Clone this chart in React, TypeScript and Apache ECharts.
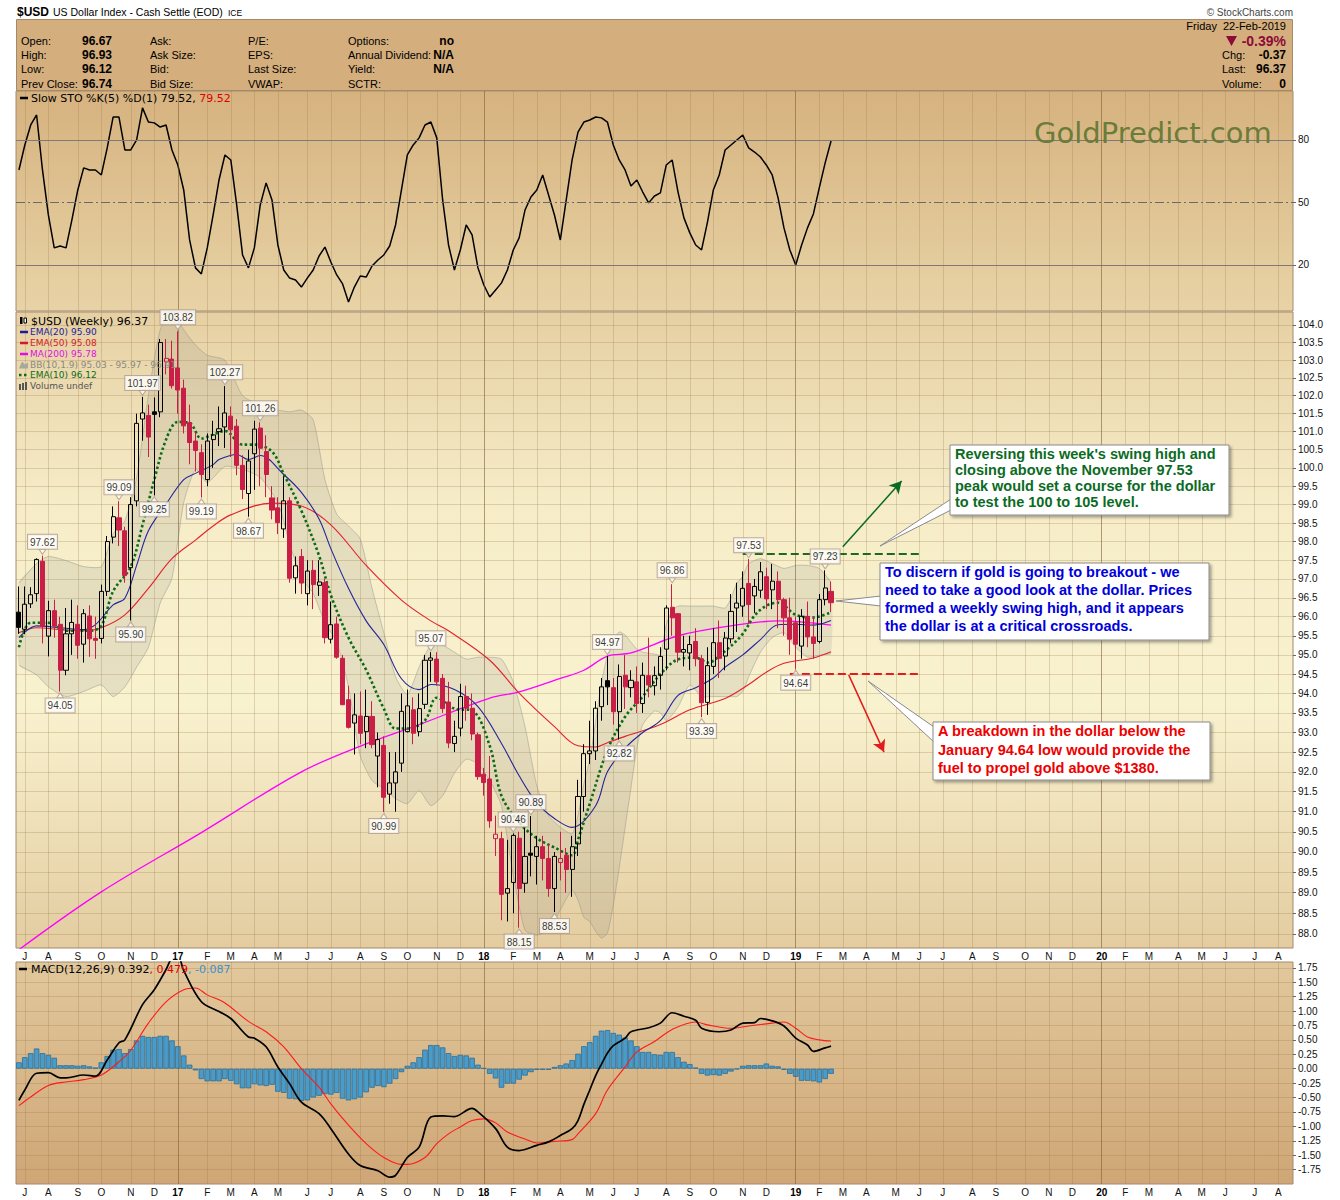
import React, { useEffect, useRef } from "react";
import * as echarts from "echarts";

// ---------------- categories (weekly bars, Friday dates) ----------------
const FIRST_WEEK = Date.UTC(2016, 6, 1);
const WEEK_COUNT = 217;
const weeks: string[] = Array.from({ length: WEEK_COUNT }, (_, i) =>
  new Date(FIRST_WEEK + i * 7 * 86400000).toISOString().slice(0, 10)
);
const monthLetters = ["J", "F", "M", "A", "M", "J", "J", "A", "S", "O", "N", "D"];

// ---------------- tick labels ----------------
const priceTicks = [88.0, 88.5, 89.0, 89.5, 90.0, 90.5, 91.0, 91.5, 92.0, 92.5, 93.0, 93.5, 94.0, 94.5, 95.0, 95.5, 96.0, 96.5, 97.0, 97.5, 98.0, 98.5, 99.0, 99.5, 100.0, 100.5, 101.0, 101.5, 102.0, 102.5, 103.0, 103.5, 104.0];
const stoTicks = [20, 50, 80];
const macdTicks = [-1.75, -1.5, -1.25, -1.0, -0.75, -0.5, -0.25, 0, 0.25, 0.5, 0.75, 1.0, 1.25, 1.5, 1.75];

// ---------------- weekly OHLC ($USD) ----------------
const opens = [
  96.12, 95.67, 96.34, 96.61, 97.47, 95.49, 96.16, 95.80, 94.60, 95.55,
  95.80, 95.28, 96.02, 95.43, 95.43, 96.67, 98.12, 98.64, 98.29, 97.30,
  99.10, 101.35, 101.45, 101.55, 101.55, 102.95, 103.03, 102.78, 102.21, 101.25,
  100.74, 100.42, 99.68, 100.78, 101.00, 101.13, 101.43, 101.15, 100.07, 99.30,
  100.39, 101.10, 100.45, 99.18, 98.91, 98.34, 99.10, 97.03, 97.60, 96.61,
  97.23, 96.83, 96.90, 95.41, 95.81, 94.91, 93.84, 93.24, 93.42, 93.02,
  93.41, 92.40, 92.67, 91.44, 91.72, 92.22, 93.02, 93.58, 93.02, 93.72,
  94.86, 94.89, 94.39, 93.78, 92.72, 93.11, 93.92, 93.62, 92.94, 91.94,
  91.82, 90.33, 90.33, 88.99, 89.25, 90.34, 89.23, 89.97, 89.89, 90.13,
  89.84, 89.10, 89.74, 89.92, 89.57, 90.20, 91.38, 92.46, 92.53, 93.66,
  94.33, 94.15, 93.53, 94.47, 94.15, 94.30, 93.74, 94.46, 94.20, 94.47,
  95.15, 96.25, 96.08, 95.07, 95.05, 95.35, 94.90, 93.77, 94.70, 95.32,
  94.97, 95.42, 96.23, 96.28, 96.88, 96.55, 96.70, 97.06, 96.71, 96.94,
  96.45, 95.97, 95.84, 95.23, 96.01, 95.47, 95.35, 96.45, 96.67,
];
const highs = [
  96.80, 96.80, 96.78, 97.55, 97.62, 96.42, 96.45, 96.00, 96.23, 96.45,
  96.30, 96.20, 96.30, 96.00, 96.85, 98.15, 98.95, 99.09, 98.40, 99.20,
  101.50, 101.97, 101.75, 101.95, 103.60, 103.60, 103.55, 103.82, 102.45, 101.75,
  101.00, 100.65, 100.95, 101.30, 101.70, 102.27, 101.70, 101.35, 100.35, 100.50,
  101.30, 101.26, 100.90, 99.50, 99.20, 99.77, 99.20, 97.60, 97.80, 97.50,
  97.50, 97.50, 97.00, 96.40, 96.00, 95.00, 94.20, 94.00, 94.05, 94.10,
  93.80, 93.00, 92.90, 92.50, 92.50, 94.00, 94.10, 93.90, 94.00, 95.00,
  95.07, 95.07, 94.50, 94.30, 93.30, 94.25, 94.20, 94.00, 93.00, 92.10,
  92.40, 90.90, 90.50, 90.30, 90.46, 90.50, 90.60, 90.89, 90.40, 90.40,
  90.20, 90.00, 90.50, 90.10, 90.40, 91.80, 92.70, 93.30, 93.80, 94.40,
  94.97, 94.40, 94.75, 95.00, 94.60, 94.70, 94.80, 95.45, 94.70, 95.20,
  96.30, 96.86, 96.10, 95.50, 95.50, 95.70, 95.00, 95.20, 95.70, 95.90,
  95.60, 96.60, 96.90, 97.20, 97.53, 97.00, 97.45, 97.30, 97.40, 97.20,
  96.50, 96.50, 96.00, 96.20, 96.40, 96.00, 96.60, 97.23, 96.93,
];
const lows = [
  95.55, 95.54, 96.23, 96.40, 95.30, 94.96, 95.45, 94.05, 94.47, 95.00,
  94.90, 94.80, 94.95, 94.90, 95.30, 96.55, 97.95, 97.88, 96.90, 95.90,
  98.95, 100.75, 100.30, 99.25, 101.40, 102.60, 102.20, 101.50, 100.95, 100.10,
  99.90, 99.19, 99.50, 100.00, 100.60, 100.55, 100.30, 99.80, 99.15, 98.67,
  99.40, 99.50, 99.20, 98.60, 98.20, 98.10, 96.90, 96.61, 96.60, 96.30,
  96.20, 96.55, 95.30, 95.30, 94.90, 93.70, 93.10, 92.44, 92.70, 92.60,
  92.60, 91.61, 90.99, 91.20, 91.00, 92.00, 93.00, 92.70, 92.90, 93.60,
  94.30, 94.20, 93.50, 92.60, 92.50, 92.90, 93.30, 92.80, 91.80, 91.40,
  90.60, 89.90, 88.33, 88.30, 88.50, 88.15, 89.00, 89.40, 89.20, 89.30,
  88.90, 88.53, 89.30, 89.00, 88.90, 89.90, 91.00, 92.20, 92.30, 93.30,
  93.70, 93.20, 92.82, 93.60, 93.90, 93.50, 93.50, 93.90, 93.95, 94.10,
  94.60, 95.50, 94.80, 94.70, 94.60, 94.70, 93.39, 93.45, 94.50, 94.40,
  94.60, 95.30, 95.60, 96.00, 95.80, 96.10, 96.50, 96.20, 96.20, 95.70,
  95.50, 95.00, 94.64, 94.90, 95.20, 94.90, 95.30, 96.30, 96.12,
];
const closes = [
  95.72, 96.33, 96.58, 97.52, 95.75, 96.16, 95.75, 94.60, 95.55, 95.85,
  95.25, 96.08, 95.42, 95.38, 96.67, 98.00, 98.67, 98.31, 97.09, 99.00,
  101.23, 101.52, 100.85, 101.48, 103.50, 103.05, 102.28, 102.16, 101.16, 100.70,
  100.48, 99.82, 100.74, 100.91, 101.08, 101.52, 101.05, 100.07, 99.41, 100.19,
  101.07, 100.54, 99.82, 98.85, 98.51, 99.10, 97.02, 97.35, 96.89, 97.21,
  96.85, 96.92, 95.45, 95.79, 94.94, 93.71, 93.13, 93.45, 92.98, 93.41,
  92.69, 92.82, 91.36, 91.72, 92.00, 93.54, 93.68, 92.98, 93.61, 94.86,
  94.92, 94.30, 93.61, 92.73, 92.90, 93.92, 93.62, 92.96, 91.88, 91.73,
  90.77, 90.44, 88.96, 89.10, 90.41, 89.10, 89.89, 89.92, 90.13, 89.84,
  89.10, 89.89, 89.84, 89.57, 90.13, 91.38, 92.46, 92.53, 93.62, 94.17,
  94.17, 93.53, 94.44, 94.17, 94.34, 93.74, 94.47, 94.22, 94.46, 94.96,
  96.23, 95.97, 95.07, 95.14, 95.27, 94.90, 93.76, 94.72, 95.32, 94.91,
  95.44, 96.14, 96.36, 96.75, 96.32, 96.80, 97.19, 96.47, 96.94, 96.45,
  95.97, 95.41, 95.28, 96.01, 95.47, 95.30, 96.45, 96.76, 96.37,
];

// ---------------- overlays: [week index, value] ----------------
const ema20 = [[0, 95.45], [3, 95.76], [7, 95.71], [11, 95.66], [13, 95.79], [16, 96.31], [18, 96.49], [20, 97.36], [22, 98.29], [25, 99.01], [28, 99.68], [30, 99.85], [33, 100.09], [34, 100.23], [37, 100.37], [39, 100.23], [41, 100.34], [45, 99.82], [48, 99.33], [51, 98.61], [53, 97.81], [56, 96.75], [59, 95.89], [62, 95.27], [65, 94.38], [68, 94.10], [70, 94.23], [74, 94.10], [78, 93.66], [82, 92.72], [85, 91.90], [88, 91.22], [91, 90.83], [94, 90.61], [98, 91.15], [100, 92.0], [103, 92.6], [106, 93.0], [109, 93.3], [112, 93.95], [115, 94.15], [118, 94.4], [120, 94.68], [123, 95.0], [126, 95.4], [129, 95.79], [132, 95.8], [135, 95.78], [138, 95.90]];
const ema50 = [[0, 95.58], [3, 95.71], [7, 95.66], [11, 95.63], [14, 95.71], [18, 96.05], [22, 96.75], [26, 97.54], [30, 98.04], [33, 98.42], [36, 98.72], [43, 99.04], [48, 98.96], [53, 98.45], [59, 97.36], [65, 96.44], [70, 95.89], [73, 95.63], [80, 94.86], [85, 94.01], [91, 93.15], [95, 92.66], [98, 92.63], [100, 92.74], [103, 92.9], [109, 93.2], [114, 93.58], [120, 93.87], [124, 94.23], [127, 94.55], [130, 94.78], [135, 94.92], [138, 95.08]];
const ma200 = [[0, 87.62], [14, 89.02], [31, 90.48], [48, 92.0], [59, 92.71], [68, 93.2], [80, 93.88], [85, 94.04], [92, 94.39], [96, 94.6], [100, 94.97], [104, 95.05], [112, 95.5], [121, 95.76], [129, 95.89], [138, 95.78]];
const ema10 = [[0, 95.20], [2, 95.84], [5, 95.84], [8, 95.63], [12, 95.63], [14, 95.76], [16, 96.67], [19, 97.33], [21, 98.45], [23, 99.68], [25, 100.78], [27, 101.27], [29, 101.24], [31, 100.81], [33, 100.92], [35, 101.02], [38, 100.64], [40, 100.64], [43, 100.45], [45, 99.83], [48, 98.83], [51, 97.62], [53, 96.57], [56, 95.45], [59, 94.61], [62, 93.61], [64, 93.10], [66, 93.10], [69, 93.31], [71, 93.89], [74, 93.61], [77, 93.56], [80, 92.66], [82, 91.40], [85, 90.73], [88, 90.34], [91, 90.11], [94, 89.92], [95, 90.3], [97, 91.2], [100, 92.55], [103, 93.4], [106, 93.92], [109, 94.5], [112, 94.88], [115, 94.93], [117, 94.8], [120, 95.1], [123, 95.55], [125, 96.03], [127, 96.29], [129, 96.37], [132, 96.05], [135, 95.98], [138, 96.12]];
const bbIdx = [0, 3, 5, 8, 11, 14, 16, 18, 20, 22, 24, 26, 28, 30, 32, 35, 38, 41, 44, 46, 48, 50, 52, 54, 56, 58, 60, 62, 64, 66, 68, 70, 72, 74, 76, 78, 80, 82, 84, 86, 88, 90, 92, 94, 95, 96, 97, 98, 99, 100, 101, 102, 103, 104, 105, 106, 108, 109, 110, 111, 112, 114, 116, 118, 120, 121, 122, 123, 124, 126, 128, 130, 132, 134, 136, 138];
const bbUpper = [96.89, 97.41, 97.60, 97.49, 97.33, 97.33, 98.21, 98.56, 99.74, 102.02, 103.86, 104.43, 103.86, 103.43, 103.14, 103.0, 102.0, 101.74, 101.6, 101.55, 101.6, 101.33, 99.68, 98.74, 98.42, 98.07, 96.75, 95.58, 94.43, 93.97, 94.68, 95.25, 95.25, 95.07, 94.89, 94.94, 94.94, 94.89, 94.30, 93.15, 91.65, 90.90, 90.61, 90.45, 90.90, 91.70, 92.30, 93.28, 94.28, 95.00, 95.40, 95.60, 95.52, 95.33, 95.15, 95.07, 95.02, 95.00, 95.80, 96.15, 96.28, 96.28, 96.28, 96.28, 96.23, 96.49, 96.89, 97.07, 97.41, 97.54, 97.41, 97.28, 97.36, 97.36, 97.28, 96.91];
const bbLower = [94.73, 94.48, 94.17, 93.92, 94.05, 94.22, 93.92, 94.17, 94.68, 95.20, 96.36, 97.02, 99.05, 99.96, 99.60, 100.04, 99.96, 99.74, 99.05, 97.94, 97.02, 96.62, 95.84, 95.33, 94.17, 92.40, 91.78, 91.58, 91.33, 91.20, 91.53, 91.15, 91.40, 91.97, 92.32, 92.20, 91.78, 91.15, 89.43, 88.09, 87.97, 88.09, 88.58, 89.06, 88.82, 88.40, 88.30, 88.06, 87.90, 88.02, 88.70, 89.60, 90.60, 91.60, 92.60, 93.20, 93.55, 93.50, 93.30, 93.45, 93.65, 94.22, 93.92, 93.92, 93.92, 93.92, 93.92, 94.05, 94.43, 95.07, 95.45, 95.58, 95.20, 94.94, 94.99, 95.03];

// swing-point labels
const peakIdx = [4, 17, 21, 27, 35, 41, 70, 84, 87, 100, 111, 124, 137];
const peakVal = [97.62, 99.09, 101.97, 103.82, 102.27, 101.26, 95.07, 90.46, 90.89, 94.97, 96.86, 97.53, 97.23];
const troughIdx = [7, 19, 23, 31, 39, 62, 85, 91, 102, 116, 132];
const troughVal = [94.05, 95.90, 99.25, 99.19, 98.67, 90.99, 88.15, 88.53, 92.82, 93.39, 94.64];

// ---------------- Slow Stochastic %K(5) ----------------
const stoK = [
  65.6, 77.6, 87.2, 92.0, 65.6, 44.0, 28.2, 29.1, 28.2, 41.6,
  56.0, 66.6, 65.6, 65.6, 63.2, 76.2, 91.0, 91.0, 75.2, 75.2,
  80.0, 95.4, 88.6, 88.2, 86.2, 87.2, 75.2, 68.0, 56.0, 32.0,
  18.6, 15.7, 28.2, 44.0, 60.8, 72.8, 70.4, 48.8, 24.8, 18.6,
  28.2, 48.8, 59.4, 51.2, 29.6, 17.6, 13.7, 12.8, 9.4, 13.7,
  17.6, 24.3, 28.6, 21.4, 15.2, 10.9, 2.2, 9.4, 14.7, 14.2,
  19.5, 22.4, 24.8, 29.1, 39.2, 56.0, 72.8, 77.6, 81.0, 87.2,
  88.6, 81.0, 51.2, 29.6, 17.6, 27.2, 39.2, 34.4, 18.6, 10.4,
  4.6, 8.0, 11.4, 17.6, 27.2, 33.0, 46.4, 52.6, 56.0, 63.2,
  53.6, 44.0, 32.0, 51.2, 70.4, 83.8, 88.6, 89.6, 91.0, 90.6,
  88.6, 77.6, 70.4, 65.6, 57.9, 60.8, 55.0, 49.8, 53.1, 54.6,
  68.0, 70.4, 55.0, 42.6, 35.4, 29.6, 27.2, 40.6, 56.0, 63.2,
  75.2, 77.6, 80.0, 82.4, 76.2, 74.2, 71.8, 68.0, 63.2, 52.2,
  37.8, 27.2, 20.0, 29.6, 37.8, 44.5, 57.0, 69.0, 79.52,
];

// ---------------- MACD(12,26,9) ----------------
const macdLine = [[0, -0.55], [1, -0.37], [3, -0.08], [5, -0.07], [7, -0.16], [8, -0.16], [11, -0.11], [13, -0.13], [15, 0.15], [17, 0.45], [18, 0.50], [21, 1.11], [23, 1.37], [25, 1.72], [26, 1.92], [27, 1.95], [28, 1.70], [31, 1.16], [34, 0.99], [36, 0.87], [39, 0.55], [40, 0.53], [42, 0.38], [44, 0.03], [46, -0.26], [48, -0.58], [51, -0.78], [53, -1.04], [56, -1.48], [58, -1.68], [61, -1.77], [63, -1.88], [64, -1.85], [66, -1.54], [68, -1.36], [70, -0.84], [72, -0.82], [74, -0.83], [77, -0.69], [78, -0.75], [81, -1.04], [83, -1.36], [85, -1.42], [88, -1.33], [90, -1.27], [92, -1.16], [94, -1.04], [95, -0.90], [96, -0.62], [97, -0.37], [98, -0.12], [99, 0.08], [100, 0.27], [101, 0.40], [103, 0.53], [104, 0.64], [107, 0.71], [109, 0.79], [111, 0.97], [113, 0.91], [115, 0.84], [116, 0.70], [119, 0.64], [121, 0.67], [123, 0.79], [125, 0.80], [126, 0.87], [128, 0.83], [130, 0.74], [132, 0.53], [134, 0.41], [135, 0.30], [137, 0.36], [138, 0.39]];
const signalLine = [[0, -0.64], [2, -0.49], [5, -0.29], [8, -0.23], [11, -0.19], [14, -0.11], [17, 0.12], [19, 0.32], [22, 0.79], [25, 1.16], [28, 1.37], [30, 1.40], [32, 1.28], [35, 1.14], [39, 0.82], [42, 0.64], [45, 0.38], [48, 0.00], [51, -0.32], [53, -0.61], [56, -0.98], [59, -1.30], [62, -1.54], [65, -1.66], [66, -1.66], [69, -1.54], [71, -1.30], [73, -1.13], [75, -1.01], [77, -0.90], [79, -0.87], [81, -0.94], [83, -1.10], [86, -1.22], [88, -1.29], [91, -1.26], [94, -1.23], [95, -1.13], [98, -0.78], [100, -0.37], [103, 0.03], [105, 0.29], [108, 0.47], [111, 0.68], [115, 0.81], [117, 0.76], [121, 0.70], [124, 0.74], [128, 0.79], [130, 0.81], [132, 0.70], [134, 0.55], [136, 0.50], [138, 0.48]];
const macdHist = [
  0.11, 0.20, 0.27, 0.35, 0.27, 0.24, 0.19, 0.06, 0.06, 0.06, 0.05, 0.06, 0.04, 0.02,
  0.11, 0.22, 0.33, 0.34, 0.27, 0.34, 0.49, 0.57, 0.55, 0.55, 0.57, 0.57, 0.49, 0.39, 0.23, 0.07,
  -0.03, -0.18, -0.22, -0.22, -0.22, -0.18, -0.21, -0.27, -0.34, -0.34, -0.27, -0.29, -0.30, -0.28, -0.40, -0.42, -0.52, -0.53, -0.56, -0.55,
  -0.50, -0.47, -0.44, -0.45, -0.42, -0.52, -0.55, -0.53, -0.50, -0.41, -0.33, -0.30, -0.32, -0.26, -0.18, -0.06,
  0.05, 0.11, 0.20, 0.33, 0.41, 0.41,
  0.37, 0.27, 0.22, 0.24, 0.23, 0.19, 0.07, 0.01, -0.09, -0.17,
  -0.33, -0.26, -0.26, -0.19, -0.12, -0.06, -0.02, -0.02, -0.02, 0.03,
  0.06, 0.09, 0.15, 0.26, 0.39, 0.46, 0.57, 0.66, 0.67, 0.62,
  0.59, 0.54, 0.49, 0.39, 0.29, 0.29, 0.25, 0.24, 0.29, 0.29,
  0.20, 0.12, 0.08, 0.02, -0.09, -0.12, -0.11, -0.12, -0.09, -0.05,
  -0.01, 0.05, 0.06, 0.06, 0.06, 0.09, 0.05, 0.04, -0.02, -0.09,
  -0.14, -0.21, -0.21, -0.22, -0.24, -0.18, -0.09,
];

// annotation levels
const breakoutLevel = 97.67;
const breakdownLevel = 94.52;

// ---------------- helpers ----------------
const FONT = '"Liberation Sans", Arial, sans-serif';
const LEGF = '"DejaVu Sans", Verdana, sans-serif';
const ln = Math.log;
const isMonthStart = weeks.map((w) => {
  const d = +w.slice(8, 10);
  return d >= 5 && d <= 11;
});
const yearStarts = weeks
  .map((w, i) => (isMonthStart[i] && w.slice(5, 7) === "01" ? i : -1))
  .filter((i) => i >= 0);

const RED = "#c91e45";
const gridLine = "rgba(150,115,70,0.26)";
const yearLine = "rgba(120,90,50,0.45)";

function xAxis(gridIndex: number, labels: boolean) {
  return {
    type: "category",
    gridIndex,
    data: weeks,
    boundaryGap: true,
    axisLine: { show: false },
    axisTick: { show: false },
    axisLabel: {
      show: labels,
      interval: (i: number) => isMonthStart[i],
      margin: 3,
      fontSize: 10,
      fontFamily: FONT,
      color: "#111",
      formatter: (v: string) => {
        const m = +v.slice(5, 7);
        return m === 1 ? `{y|${v.slice(2, 4)}}` : monthLetters[m - 1];
      },
      rich: { y: { fontWeight: "bold", fontSize: 10, fontFamily: FONT, color: "#000" } },
    },
    splitLine: {
      show: true,
      interval: (i: number) => isMonthStart[i],
      alignWithLabel: true,
      lineStyle: { color: gridLine, width: 1 },
    },
  };
}

function txt(text: string, x: number, y: number, font: string, fill: string, align = "left", extra: any = {}) {
  return {
    type: "text",
    silent: true,
    z: 60,
    style: { text, x, y, font, fill, textAlign: align, textVerticalAlign: "middle", ...extra },
  };
}

function callout(x: number, y: number, w: number, h: number, lines: string[], color: string, lh: number, tip: number[][]) {
  const els: any[] = [
    {
      type: "polygon",
      silent: true,
      z: 61,
      shape: { points: tip },
      style: { fill: "#fff", stroke: "#8a8a8a", lineWidth: 1 },
    },
    {
      type: "rect",
      silent: true,
      z: 62,
      shape: { x, y, width: w, height: h },
      style: { fill: "#fff", stroke: "#8a8a8a", lineWidth: 1, shadowBlur: 3, shadowOffsetX: 2, shadowOffsetY: 2, shadowColor: "rgba(0,0,0,0.35)" },
    },
  ];
  lines.forEach((t, k) => {
    els.push({
      type: "text",
      silent: true,
      z: 63,
      style: { text: t, x: x + 5, y: y + 9 + k * lh, font: `bold 14.5px ${FONT}`, fill: color, textVerticalAlign: "middle" },
    });
  });
  return els;
}

function buildOption() {
  const candleData = opens.map((o, i) => {
    const c = closes[i];
    const prev = i > 0 ? closes[i - 1] : -Infinity;
    const col = c >= prev ? "#000" : RED;
    const fill = c > o ? "rgba(0,0,0,0)" : col;
    return {
      value: [ln(o), ln(c), ln(lows[i]), ln(highs[i])],
      itemStyle: { color: fill, color0: fill, borderColor: col, borderColor0: col, borderColorDoji: col },
    };
  });
  const lnPairs = (arr: number[][]) => arr.map(([i, v]) => [i, ln(v)]);
  const lineSeries = (data: number[][], color: string, width: number, extra: any = {}) => ({
    type: "line",
    xAxisIndex: 1,
    yAxisIndex: 1,
    data: lnPairs(data),
    smooth: 0.35,
    showSymbol: false,
    symbol: "none",
    silent: true,
    z: 3,
    lineStyle: { color, width, ...extra },
  });
  const labelBox = {
    show: true,
    fontSize: 10,
    fontFamily: FONT,
    color: "#000",
    backgroundColor: "#fff",
    borderColor: "#b09c88",
    borderWidth: 1,
    padding: [2, 2, 1, 2],
    lineHeight: 11,
    formatter: (p: any) => p.value[2].toFixed(2),
  };

  const graphic: any[] = [
    // title row
    txt("$USD", 17, 12, `bold 12px ${FONT}`, "#000"),
    txt("US Dollar Index - Cash Settle (EOD)", 53, 12, `10.5px ${FONT}`, "#000"),
    txt("ICE", 228, 12.5, `8.5px ${FONT}`, "#000"),
    txt("\u00A9 StockCharts.com", 1293, 12, `10px ${FONT}`, "#444", "right"),
    // header box
    {
      type: "rect",
      silent: true,
      z: 0,
      shape: { x: 16.5, y: 19.5, width: 1276, height: 71 },
      style: { fill: "#d4ae7d", stroke: "#a48a6c", lineWidth: 1 },
    },
  ];
  const hdrLabels: [string, number, number][] = [
    ["Open:", 21, 41], ["High:", 21, 55], ["Low:", 21, 69], ["Prev Close:", 21, 84],
    ["Ask:", 150, 41], ["Ask Size:", 150, 55], ["Bid:", 150, 69], ["Bid Size:", 150, 84],
    ["P/E:", 248, 41], ["EPS:", 248, 55], ["Last Size:", 248, 69], ["VWAP:", 248, 84],
    ["Options:", 348, 41], ["Annual Dividend:", 348, 55], ["Yield:", 348, 69], ["SCTR:", 348, 84],
  ];
  hdrLabels.forEach(([t, x, y]) => graphic.push(txt(t, x, y, `11px ${FONT}`, "#000")));
  const hdrValues: [string, number, number][] = [["96.67", 82, 41], ["96.93", 82, 55], ["96.12", 82, 69], ["96.74", 82, 84]];
  hdrValues.forEach(([t, x, y]) => graphic.push(txt(t, x, y, `bold 12px ${FONT}`, "#000")));
  const hdrRight: [string, number, number][] = [["no", 454, 41], ["N/A", 454, 55], ["N/A", 454, 69]];
  hdrRight.forEach(([t, x, y]) => graphic.push(txt(t, x, y, `bold 12px ${FONT}`, "#000", "right")));
  graphic.push(txt("Friday  22-Feb-2019", 1286, 26, `11px ${FONT}`, "#000", "right"));
  graphic.push(txt("-0.39%", 1286, 41, `bold 14px ${FONT}`, "#8e0a37", "right"));
  graphic.push({
    type: "polygon",
    silent: true,
    z: 60,
    shape: { points: [[1226, 36], [1237, 36], [1231.5, 46]] },
    style: { fill: "#8e0a37" },
  });
  const sideRows: [string, string, number][] = [["Chg:", "-0.37", 55], ["Last:", "96.37", 69], ["Volume:", "0", 84]];
  sideRows.forEach(([l, v, y]) => {
    graphic.push(txt(l, 1222, y, `11px ${FONT}`, "#000"));
    graphic.push(txt(v, 1286, y, `bold 12px ${FONT}`, "#000", "right"));
  });

  // STO legend
  graphic.push({ type: "line", silent: true, z: 60, shape: { x1: 20, y1: 98, x2: 28, y2: 98 }, style: { stroke: "#000", lineWidth: 2.5 } });
  graphic.push(txt("Slow STO %K(5) %D(1) 79.52, {r|79.52}", 31, 98.5, `11px ${LEGF}`, "#000", "left", { rich: { r: { fill: "#e00000", font: `11px ${LEGF}` } } }));
  // watermark
  graphic.push(txt("GoldPredict.com", 1034, 133, `29px ${LEGF}`, "#6b7c3a"));

  // price legend
  graphic.push({ type: "rect", silent: true, z: 60, shape: { x: 20, y: 317, width: 2.5, height: 7 }, style: { fill: "#000" } });
  graphic.push({ type: "rect", silent: true, z: 60, shape: { x: 24, y: 318, width: 2.5, height: 5 }, style: { fill: "#fff", stroke: "#000", lineWidth: 1 } });
  graphic.push(txt("$USD (Weekly) 96.37", 31, 321, `11px ${LEGF}`, "#000"));
  const legRows: [string, string, number, string][] = [
    ["EMA(20) 95.90", "#1c1c9a", 332, "solid"],
    ["EMA(50) 95.08", "#d41a2a", 343, "solid"],
    ["MA(200) 95.78", "#e010e0", 354, "solid"],
    ["BB(10,1.9) 95.03 - 95.97 - 96.91", "#8a8a80", 364.5, "bb"],
    ["EMA(10) 96.12", "#0e6b18", 375, "dot"],
    ["Volume undef", "#555", 386, "vol"],
  ];
  legRows.forEach(([t, c, y, kind]) => {
    if (kind === "solid") {
      graphic.push({ type: "line", silent: true, z: 60, shape: { x1: 20, y1: y, x2: 28, y2: y }, style: { stroke: c, lineWidth: 2.5 } });
    } else if (kind === "dot") {
      graphic.push({ type: "line", silent: true, z: 60, shape: { x1: 19, y1: y, x2: 28, y2: y }, style: { stroke: c, lineWidth: 2.5, lineDash: [2.5, 2.5] } });
    } else if (kind === "bb") {
      graphic.push({ type: "polygon", silent: true, z: 60, shape: { points: [[19, y + 4], [22, y - 3], [25, y], [28, y - 2], [28, y + 4]] }, style: { fill: "#a8a89c" } });
    } else {
      [19, 22, 25].forEach((bx, k) =>
        graphic.push({ type: "rect", silent: true, z: 60, shape: { x: bx, y: y - 2 - k, width: 2, height: 6 + k }, style: { fill: "#555" } })
      );
    }
    graphic.push(txt(t, 30, y, `9px ${LEGF}`, c));
  });

  // MACD legend
  graphic.push({ type: "line", silent: true, z: 60, shape: { x1: 19, y1: 969, x2: 27, y2: 969 }, style: { stroke: "#000", lineWidth: 2.5 } });
  graphic.push(
    txt("MACD(12,26,9) 0.392{r|, 0.479}{b|, -0.087}", 31, 969.5, `11px ${LEGF}`, "#000", "left", {
      rich: { r: { fill: "#e00000", font: `11px ${LEGF}` }, b: { fill: "#3a90d0", font: `11px ${LEGF}` } },
    })
  );

  // call-outs
  graphic.push(
    ...callout(950, 445, 279, 70, [
      "Reversing this week's swing high and",
      "closing above the November 97.53",
      "peak would set a course for the dollar",
      "to test the 100 to 105 level.",
    ], "#0b6b1f", 16, [[951, 499], [880, 546], [951, 510]])
  );
  graphic.push(
    ...callout(880, 563, 329, 77, [
      "To discern if gold is going to breakout - we",
      "need to take a good look at the dollar. Prices",
      "formed a weekly swing high, and it appears",
      "the dollar is at a critical crossroads.",
    ], "#0000dd", 18, [[881, 596], [836, 601], [881, 606]])
  );
  graphic.push(
    ...callout(933, 722, 277, 58, [
      "A breakdown in the dollar below the",
      "January 94.64 low would provide the",
      "fuel to propel gold above $1380.",
    ], "#ee0000", 18.5, [[934, 727], [868, 681], [934, 742]])
  );

  const yearMarks = yearStarts.map((i) => ({ xAxis: i, lineStyle: { color: yearLine, width: 1, type: "solid" } }));

  return {
    animation: false,
    backgroundColor: "#ffffff",
    graphic: { elements: graphic },
    grid: [
      {
        left: 16, top: 91, width: 1277, height: 220, show: true,
        backgroundColor: { type: "linear", x: 0, y: 0, x2: 0, y2: 1, colorStops: [{ offset: 0, color: "#d6b27f" }, { offset: 1, color: "#e8d3a6" }] },
        borderColor: "#a48a6c", borderWidth: 1,
      },
      {
        left: 16, top: 312, width: 1277, height: 636, show: true,
        backgroundColor: { type: "linear", x: 0, y: 0, x2: 0, y2: 1, colorStops: [{ offset: 0, color: "#e6d0a3" }, { offset: 0.3, color: "#f6ecc8" }, { offset: 0.62, color: "#f9f2cf" }, { offset: 1, color: "#e3cca0" }] },
        borderColor: "#a48a6c", borderWidth: 1,
      },
      {
        left: 16, top: 962, width: 1277, height: 222, show: true,
        backgroundColor: { type: "linear", x: 0, y: 0, x2: 0, y2: 1, colorStops: [{ offset: 0, color: "#e1c89c" }, { offset: 1, color: "#cfa676" }] },
        borderColor: "#a48a6c", borderWidth: 1,
      },
    ],
    xAxis: [xAxis(0, false), xAxis(1, true), xAxis(2, true)],
    yAxis: [
      {
        type: "value", gridIndex: 0, position: "right", min: -2.1, max: 103.5,
        axisLine: { show: false },
        axisTick: { show: true, length: 3, customValues: stoTicks, lineStyle: { color: "#666" } },
        axisLabel: { customValues: stoTicks, fontSize: 10, fontFamily: FONT, color: "#111", margin: 5 },
        splitLine: { show: false },
      },
      {
        type: "value", gridIndex: 1, position: "right", min: ln(87.66), max: ln(104.37),
        axisLine: { show: false },
        axisTick: { show: true, length: 3, customValues: priceTicks.map(ln), lineStyle: { color: "#666" } },
        axisLabel: { customValues: priceTicks.map(ln), fontSize: 10, fontFamily: FONT, color: "#111", margin: 5, formatter: (v: number) => Math.exp(v).toFixed(1) },
        splitLine: { show: true, lineStyle: { color: gridLine, width: 1 } },
      },
      {
        type: "value", gridIndex: 2, position: "right", min: -2.0, max: 1.85,
        axisLine: { show: false },
        axisTick: { show: true, length: 3, customValues: macdTicks, lineStyle: { color: "#666" } },
        axisLabel: { customValues: macdTicks, fontSize: 10, fontFamily: FONT, color: "#111", margin: 5, formatter: (v: number) => v.toFixed(2) },
        splitLine: { show: true, lineStyle: { color: gridLine, width: 1 } },
      },
    ],
    series: [
      {
        type: "line", xAxisIndex: 0, yAxisIndex: 0, data: stoK, showSymbol: false, symbol: "none", silent: true,
        lineStyle: { color: "#000", width: 1.5 }, z: 4,
        markLine: {
          silent: true, symbol: ["none", "none"], label: { show: false }, animation: false,
          data: [
            { yAxis: 80, lineStyle: { color: "#7a7a7a", width: 1, type: "solid" } },
            { yAxis: 50, lineStyle: { color: "#6a6a6a", width: 1, type: [9, 3, 2, 3] } },
            { yAxis: 20, lineStyle: { color: "#7a7a7a", width: 1, type: "solid" } },
            ...yearMarks,
          ],
        },
      },
      {
        type: "custom", xAxisIndex: 1, yAxisIndex: 1, clip: true, silent: true, z: 1,
        data: bbIdx.map((i, k) => [i, ln(bbUpper[k]), ln(bbLower[k])]),
        encode: { x: 0, y: [1, 2] },
        renderItem: (params: any, api: any) => {
          if (params.dataIndex !== 0) return null;
          const up = bbIdx.map((i, k) => api.coord([i, ln(bbUpper[k])]));
          const lo = bbIdx.map((i, k) => api.coord([i, ln(bbLower[k])]));
          return {
            type: "group",
            children: [
              { type: "polygon", shape: { points: up.concat(lo.slice().reverse()), smooth: 0.2 }, style: { fill: "rgba(135,138,128,0.17)", stroke: "none" } },
              { type: "polyline", shape: { points: up, smooth: 0.2 }, style: { fill: "none", stroke: "rgba(150,150,140,0.5)", lineWidth: 1 } },
              { type: "polyline", shape: { points: lo, smooth: 0.2 }, style: { fill: "none", stroke: "rgba(150,150,140,0.5)", lineWidth: 1 } },
            ],
          };
        },
      },
      lineSeries(ma200, "#ff00ff", 1.3),
      lineSeries(ema50, "#e3202c", 1.1),
      lineSeries(ema20, "#22259a", 1.1),
      lineSeries(ema10, "#0b6a16", 2.6, { type: [2.5, 2.5], cap: "butt" }),
      {
        type: "candlestick", xAxisIndex: 1, yAxisIndex: 1, barWidth: 4.6, z: 5, silent: true,
        itemStyle: { borderWidth: 1 },
        data: candleData,
        markLine: {
          silent: true, symbol: ["none", "none"], label: { show: false }, animation: false,
          data: [
            ...yearMarks,
            [
              { coord: [123, ln(breakoutLevel)], lineStyle: { color: "#1d6a1d", width: 2, type: [8, 4] } },
              { coord: [153, ln(breakoutLevel)], lineStyle: { color: "#1d6a1d", width: 2, type: [8, 4] } },
            ],
            [
              { coord: [131, ln(breakdownLevel)], lineStyle: { color: "#e21b1b", width: 2, type: [8, 4] } },
              { coord: [153, ln(breakdownLevel)], lineStyle: { color: "#e21b1b", width: 2, type: [8, 4] } },
            ],
            [
              { coord: [140, ln(97.86)], symbol: "none", lineStyle: { color: "#0b6a22", width: 1.5, type: "solid" } },
              { coord: [150, ln(99.64)], symbol: "arrow", symbolSize: [10, 12], lineStyle: { color: "#0b6a22", width: 1.5, type: "solid" } },
            ],
            [
              { coord: [141, ln(94.48)], symbol: "none", lineStyle: { color: "#e21b1b", width: 1.5, type: "solid" } },
              { coord: [147, ln(92.5)], symbol: "arrow", symbolSize: [10, 12], lineStyle: { color: "#e21b1b", width: 1.5, type: "solid" } },
            ],
          ],
        },
      },
      {
        type: "scatter", xAxisIndex: 1, yAxisIndex: 1, z: 8, silent: true,
        symbol: "triangle", symbolSize: [7, 5], symbolRotate: 180, symbolOffset: [0, -4],
        itemStyle: { color: "#fff", borderColor: "#b09c88", borderWidth: 1 },
        label: { ...labelBox, position: "top", distance: 0 },
        data: peakIdx.map((i, k) => [i, ln(peakVal[k]), peakVal[k]]),
      },
      {
        type: "scatter", xAxisIndex: 1, yAxisIndex: 1, z: 8, silent: true,
        symbol: "triangle", symbolSize: [7, 5], symbolOffset: [0, 4],
        itemStyle: { color: "#fff", borderColor: "#b09c88", borderWidth: 1 },
        label: { ...labelBox, position: "bottom", distance: 0 },
        data: troughIdx.map((i, k) => [i, ln(troughVal[k]), troughVal[k]]),
      },
      {
        type: "bar", xAxisIndex: 2, yAxisIndex: 2, data: macdHist, barCategoryGap: "6%", silent: true, z: 2,
        itemStyle: { color: "#4a9bc8", borderColor: "#2b6f99", borderWidth: 0.8 },
        markLine: { silent: true, symbol: ["none", "none"], label: { show: false }, animation: false, data: yearMarks },
      },
      {
        type: "line", xAxisIndex: 2, yAxisIndex: 2, data: signalLine, smooth: 0.35, showSymbol: false, symbol: "none", silent: true, z: 4,
        lineStyle: { color: "#ff1a1a", width: 1.1 },
      },
      {
        type: "line", xAxisIndex: 2, yAxisIndex: 2, data: macdLine, smooth: 0.35, showSymbol: false, symbol: "none", silent: true, z: 5,
        lineStyle: { color: "#000", width: 1.7 },
      },
    ],
  };
}

export default function App() {
  const ref = useRef<HTMLDivElement>(null);
  useEffect(() => {
    document.body.style.margin = "0";
    const chart = echarts.init(ref.current as HTMLDivElement, undefined, { renderer: "svg" });
    chart.setOption(buildOption() as any);
    return () => chart.dispose();
  }, []);
  return <div ref={ref} style={{ width: 1340, height: 1200, background: "#fff" }} />;
}
